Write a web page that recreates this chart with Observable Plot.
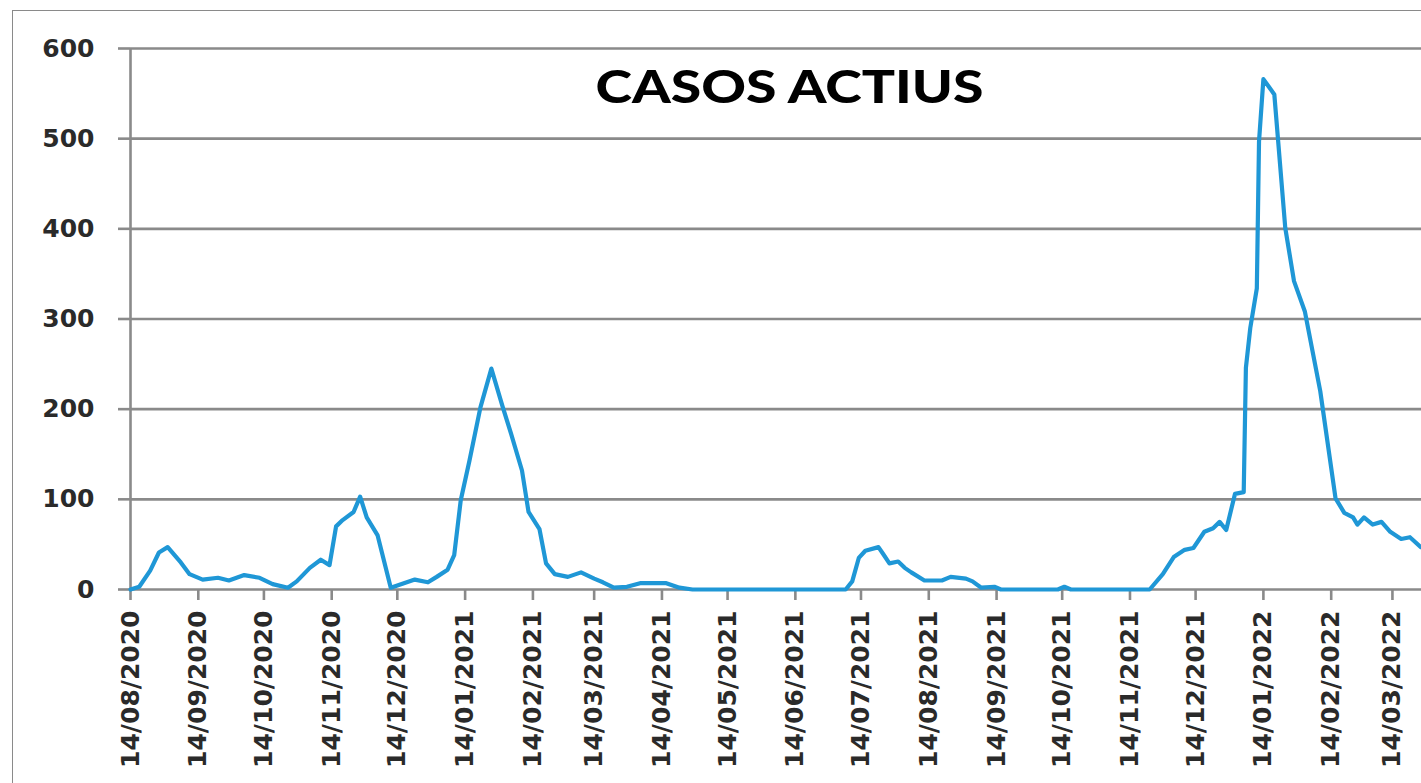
<!DOCTYPE html>
<html>
<head>
<meta charset="utf-8">
<script src="https://cdn.jsdelivr.net/npm/d3@7"></script>
<script src="https://cdn.jsdelivr.net/npm/@observablehq/plot@0.6"></script>
<style>
  html, body { margin: 0; padding: 0; background: #fff; }
  #wrap { position: relative; width: 1421px; height: 783px; overflow: hidden; }
  #border { position: absolute; left: 12px; top: 10px; right: -5px; bottom: -5px;
            border-left: 1.5px solid #8a8a8a; border-top: 1.5px solid #8a8a8a; pointer-events: none; }
</style>
</head>
<body>
<div id="wrap"><div id="border"></div></div>
<script>
const title = "CASOS ACTIUS";

const dates = [
  "2020-08-14","2020-08-18","2020-08-23","2020-08-27","2020-08-31","2020-09-06","2020-09-10",
  "2020-09-16","2020-09-23","2020-09-28","2020-10-05","2020-10-12","2020-10-18","2020-10-25",
  "2020-10-29","2020-11-04","2020-11-09","2020-11-13","2020-11-16","2020-11-19","2020-11-24",
  "2020-11-27","2020-11-30","2020-12-05","2020-12-11","2020-12-17","2020-12-22","2020-12-28",
  "2021-01-01","2021-01-06","2021-01-09","2021-01-12","2021-01-16","2021-01-21","2021-01-26",
  "2021-01-31","2021-02-04","2021-02-09","2021-02-12","2021-02-17","2021-02-20","2021-02-24",
  "2021-03-02","2021-03-08","2021-03-14","2021-03-18","2021-03-23","2021-03-29","2021-04-04",
  "2021-04-16","2021-04-22","2021-04-28","2021-07-07","2021-07-10","2021-07-13","2021-07-16",
  "2021-07-22","2021-07-24","2021-07-27","2021-07-31","2021-08-03","2021-08-06","2021-08-12",
  "2021-08-20","2021-08-24","2021-08-31","2021-09-03","2021-09-07","2021-09-13","2021-09-16",
  "2021-10-12","2021-10-15","2021-10-18","2021-11-23","2021-11-29","2021-12-04","2021-12-09",
  "2021-12-13","2021-12-18","2021-12-22","2021-12-25","2021-12-28","2022-01-01","2022-01-05",
  "2022-01-06","2022-01-08","2022-01-11","2022-01-12","2022-01-14","2022-01-19","2022-01-24",
  "2022-01-28","2022-02-02","2022-02-09","2022-02-16","2022-02-20","2022-02-24","2022-02-26",
  "2022-03-01","2022-03-05","2022-03-09","2022-03-13","2022-03-18","2022-03-22","2022-03-27"
];

const values = [
  0, 3, 21, 41, 47, 30, 17,
  11, 13, 10, 16, 13, 6, 2,
  9, 24, 33, 27, 70, 77, 86,
  103, 80, 60, 2, 7, 11, 8,
  14, 22, 38, 99, 143, 202, 245,
  204, 173, 132, 86, 67, 29, 17,
  14, 19, 12, 8, 2, 3, 7,
  7, 2, 0, 0, 9, 35, 43,
  47, 40, 29, 31, 24, 19, 10,
  10, 14, 12, 9, 2, 3, 0,
  0, 3, 0, 0, 17, 36, 44,
  46, 64, 68, 75, 66, 106, 108,
  246, 290, 334, 497, 566, 549, 401,
  342, 308, 220, 101, 85, 80, 72,
  80, 72, 75, 64, 56, 58, 47
];

const xTickDates = [
  "2020-08-14","2020-09-14","2020-10-14","2020-11-14","2020-12-14","2021-01-14","2021-02-14",
  "2021-03-14","2021-04-14","2021-05-14","2021-06-14","2021-07-14","2021-08-14","2021-09-14",
  "2021-10-14","2021-11-14","2021-12-14","2022-01-14","2022-02-14","2022-03-14"
];
const xDomain = ["2020-08-14", "2022-03-27T07:00:00Z"];
const yTicks = [0, 100, 200, 300, 400, 500, 600];

const data = dates.map((d, i) => ({date: new Date(d), value: values[i]}));
const ticks = xTickDates.map(d => new Date(d));

const grid = "#8a8a8a";
const chart = Plot.plot({
  width: 1421,
  height: 783,
  marginLeft: 130,
  marginRight: 0,
  marginTop: 48,
  marginBottom: 194,
  style: {fontFamily: "DejaVu Sans", fontWeight: "bold", fontSize: "25px", background: "transparent", color: "#2a2a2a"},
  x: {type: "utc", domain: xDomain.map(d => new Date(d))},
  y: {domain: [0, 600]},
  marks: [
    Plot.ruleY(yTicks, {stroke: grid, strokeWidth: 2.6}),
    Plot.ruleX([ticks[0]], {y1: 0, y2: 600, stroke: grid, strokeWidth: 2.6}),
    Plot.axisY({ticks: yTicks, tickSize: 12, tickPadding: 24, stroke: grid, strokeWidth: 2.6,
                fill: "#2a2a2a", fontSize: 25, label: null}),
    Plot.axisX({ticks: ticks, tickFormat: d3.utcFormat("%d/%m/%Y"), tickRotate: -90,
                tickSize: 11, tickPadding: 10, stroke: grid, strokeWidth: 2.6,
                fill: "#2a2a2a", fontSize: 25, label: null}),
    Plot.line(data, {x: "date", y: "value", stroke: "#1f97d6", strokeWidth: 4.2,
                     strokeLinejoin: "round", strokeLinecap: "round"}),
    Plot.text([title], {frameAnchor: "top-left", textAnchor: "start", lineAnchor: "bottom",
                        dx: 465, dy: 54, fontSize: 46, fontWeight: 900,
                        fontFamily: "Lato", fill: "#000", className: "charttitle"})
  ]
});
document.getElementById("wrap").appendChild(chart);
d3.select(chart).selectAll(".charttitle text")
  .attr("textLength", 388).attr("lengthAdjust", "spacingAndGlyphs");
</script>
</body>
</html>
